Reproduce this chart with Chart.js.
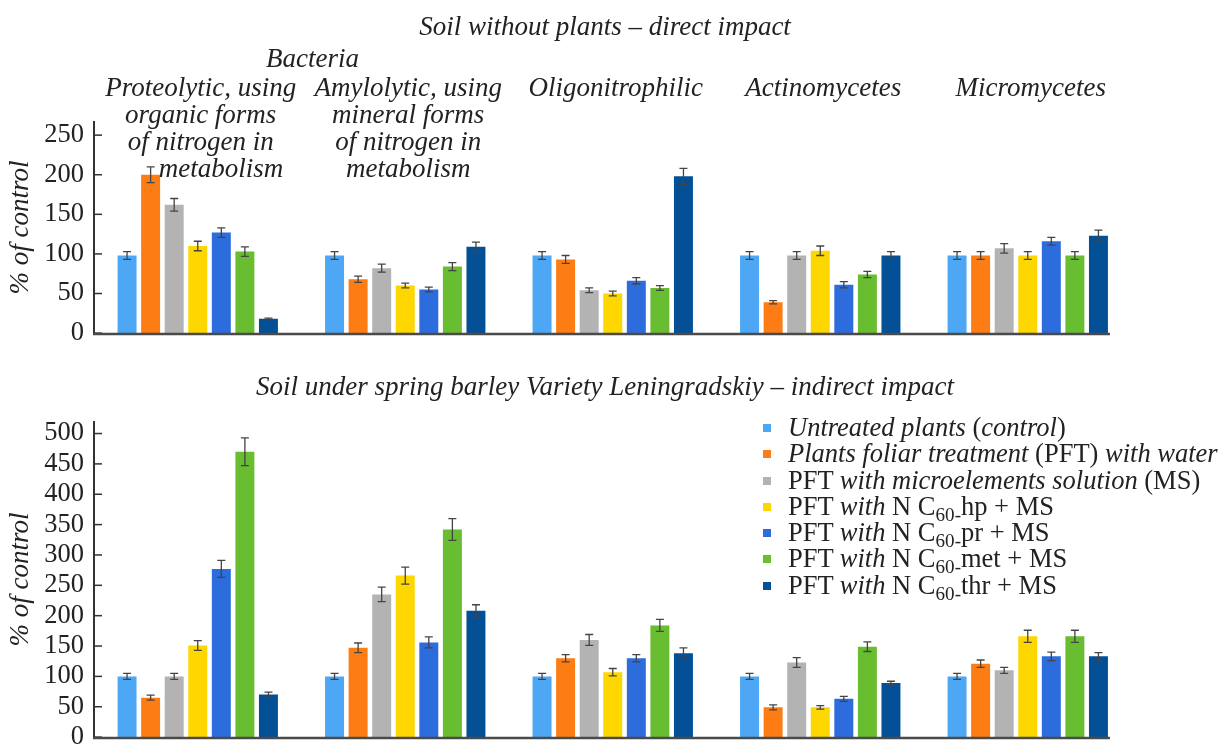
<!DOCTYPE html>
<html>
<head>
<meta charset="utf-8">
<script src="https://cdn.jsdelivr.net/npm/chart.js@4"></script>
<style>
  html, body { margin: 0; padding: 0; background: #fff; overflow: hidden; }
  body { width: 1224px; height: 745px; position: relative; }
  .box { position: absolute; left: 0; }
  #legend {
    position: absolute; left: 763px; top: 414px;
    font-family: "Liberation Serif", serif; font-size: 26.5px; color: #222;
  }
  #legend .row { height: 26.3px; line-height: 26.3px; white-space: nowrap; }
  #legend .sw { display: inline-block; width: 8px; height: 8px; margin-right: 17px; vertical-align: 4px; }
  #legend sub { font-size: 0.72em; vertical-align: -0.3em; line-height: 0; }
</style>
</head>
<body>
<div class="box" style="top:0"><canvas id="direct" width="1224" height="359"></canvas></div>
<div class="box" style="top:360px"><canvas id="indirect" width="1224" height="403"></canvas></div>
<div id="legend"></div>
<script>
/* ---------------- data ---------------- */
const groups = ['Proteolytic', 'Amylolytic', 'Oligonitrophilic', 'Actinomycetes', 'Micromycetes'];

const groupLabelLines = [
    ['Proteolytic, using', 'organic forms', 'of nitrogen in', '      metabolism'],
    ['Amylolytic, using', 'mineral forms', 'of nitrogen in', 'metabolism'],
    ['Oligonitrophilic'],
    ['Actinomycetes'],
    ['Micromycetes']
];

const seriesLabels = [
    '<i>Untreated plants</i> (<i>control</i>)',
    '<i>Plants foliar treatment</i> (PFT) <i>with water</i>',
    'PFT <i>with microelements solution</i> (MS)',
    'PFT <i>with</i> N C<sub>60-</sub>hp + MS',
    'PFT <i>with</i> N C<sub>60-</sub>pr + MS',
    'PFT <i>with</i> N C<sub>60-</sub>met + MS',
    'PFT <i>with</i> N C<sub>60-</sub>thr + MS'
];
const seriesColors = ['#4da7f5', '#fd7c14', '#b3b3b3', '#fed600', '#2c6cdd', '#68bd30', '#045096'];

// soil without plants (direct impact), % of control
const directUntreated = [98, 98, 98, 98, 98];
const directWater     = [200, 68, 93, 39, 98];
const directMS        = [162, 82, 54, 98, 107];
const directHp        = [110, 60, 50, 104, 98];
const directPr        = [127, 55, 66, 61, 116];
const directMet       = [103, 84, 57, 74, 98];
const directThr       = [18, 109, 198, 98, 123];

const directErrUntreated = [5, 5, 5, 5, 5];
const directErrWater     = [10, 4, 5, 2, 5];
const directErrMS        = [8, 5, 3, 5, 6];
const directErrHp        = [6, 3, 3, 6, 5];
const directErrPr        = [6, 3, 4, 4, 5];
const directErrMet       = [6, 5, 3, 4, 5];
const directErrThr       = [1, 6, 10, 5, 7];

// soil under spring barley (indirect impact), % of control
const indirectUntreated = [100, 100, 100, 100, 100];
const indirectWater     = [65, 147, 130, 49, 121];
const indirectMS        = [100, 235, 160, 123, 110];
const indirectHp        = [151, 266, 107, 49, 166];
const indirectPr        = [277, 156, 130, 63, 133];
const indirectMet       = [470, 342, 184, 149, 166];
const indirectThr       = [70, 208, 138, 89, 133];

const indirectErrUntreated = [5, 5, 5, 5, 5];
const indirectErrWater     = [4, 8, 6, 4, 6];
const indirectErrMS        = [5, 12, 9, 8, 5];
const indirectErrHp        = [8, 14, 6, 3, 10];
const indirectErrPr        = [14, 9, 6, 4, 7];
const indirectErrMet       = [23, 18, 10, 8, 10];
const indirectErrThr       = [4, 10, 9, 3, 6];

const directTicks = [0, 50, 100, 150, 200, 250];
const indirectTicks = [0, 50, 100, 150, 200, 250, 300, 350, 400, 450, 500];

/* ---------------- helpers ---------------- */
const SERIF = '"Liberation Serif", "Times New Roman", serif';
const stripTags = s => s.replace(/<[^>]+>/g, '');

function makeDatasets(values, errors) {
    return values.map((v, i) => ({
        label: stripTags(seriesLabels[i]),
        data: v,
        errors: errors[i],
        backgroundColor: seriesColors[i],
        borderWidth: 0,
        categoryPercentage: 0.795,
        barPercentage: 0.805
    }));
}

// error bars, small inward y ticks, x axis line up to the last bar, centred title
const decorations = {
    id: 'decorations',
    afterDatasetsDraw(chart, args, opts) {
        const ctx = chart.ctx;
        const y = chart.scales.y;
        const area = chart.chartArea;
        ctx.save();
        ctx.strokeStyle = '#444';
        ctx.lineWidth = 1.3;
        chart.data.datasets.forEach((ds, i) => {
            chart.getDatasetMeta(i).data.forEach((bar, j) => {
                const v = ds.data[j], e = ds.errors[j];
                const y1 = y.getPixelForValue(v + e), y2 = y.getPixelForValue(v - e);
                ctx.beginPath();
                ctx.moveTo(bar.x, y1); ctx.lineTo(bar.x, y2);
                ctx.moveTo(bar.x - 4, y1); ctx.lineTo(bar.x + 4, y1);
                ctx.moveTo(bar.x - 4, y2); ctx.lineTo(bar.x + 4, y2);
                ctx.stroke();
            });
        });
        ctx.strokeStyle = '#333';
        ctx.lineWidth = 1.5;
        y.ticks.forEach(t => {
            const py = y.getPixelForValue(t.value);
            ctx.beginPath();
            ctx.moveTo(area.left, py);
            ctx.lineTo(area.left + 8, py);
            ctx.stroke();
        });
        // x axis line
        const metas = chart.getSortedVisibleDatasetMetas();
        const lastBars = metas[metas.length - 1].data;
        const lastBar = lastBars[lastBars.length - 1];
        ctx.strokeStyle = '#4a4a4a';
        ctx.lineWidth = 2.5;
        ctx.beginPath();
        ctx.moveTo(area.left - 1, area.bottom + 1);
        ctx.lineTo(lastBar.x + lastBar.width / 2 + 2, area.bottom + 1);
        ctx.stroke();
        // title
        ctx.font = 'italic 27px ' + SERIF;
        ctx.fillStyle = '#222';
        ctx.textAlign = 'center';
        ctx.textBaseline = 'middle';
        ctx.fillText(opts.title, 605, 28);
        ctx.restore();
    }
};

// category names drawn over the top chart
const groupNames = {
    id: 'groupNames',
    afterDraw(chart) {
        const ctx = chart.ctx;
        const x = chart.scales.x;
        ctx.save();
        ctx.font = 'italic 27px ' + SERIF;
        ctx.fillStyle = '#222';
        ctx.textAlign = 'center';
        ctx.textBaseline = 'middle';
        ctx.fillText('Bacteria', (x.getPixelForValue(0) + x.getPixelForValue(1)) / 2 + 11, 60);
        groupLabelLines.forEach((lines, i) => {
            const cx = x.getPixelForValue(i) + 3;
            lines.forEach((line, k) => ctx.fillText(line, cx, 89 + k * 27));
        });
        ctx.restore();
    }
};

function makeChart(id, values, errors, title, ticks, yMax, padTop, padBottom, extraPlugins) {
    return new Chart(document.getElementById(id), {
        type: 'bar',
        data: { labels: groups, datasets: makeDatasets(values, errors) },
        plugins: [decorations].concat(extraPlugins),
        options: {
            responsive: false,
            animation: false,
            layout: { padding: { left: 0, right: 92.5, top: padTop, bottom: padBottom } },
            plugins: {
                legend: { display: false },
                tooltip: { enabled: false },
                title: { display: false },
                decorations: { title: title }
            },
            scales: {
                x: {
                    grid: { display: false, drawTicks: false },
                    border: { display: false },
                    ticks: { display: false },
                    afterFit: s => { s.height = 0; }
                },
                y: {
                    min: 0,
                    max: yMax,
                    grid: { display: false, drawTicks: false },
                    border: { display: true, color: '#333', width: 2 },
                    afterBuildTicks: s => { s.ticks = ticks.map(v => ({ value: v })); },
                    afterFit: s => { s.width = 94; },
                    ticks: {
                        color: '#222',
                        padding: 10,
                        autoSkip: false,
                        font: { family: SERIF, size: 26.5 }
                    },
                    title: {
                        display: true,
                        text: '% of control',
                        color: '#222',
                        font: { family: SERIF, size: 27, style: 'italic' },
                        padding: { top: 5, bottom: 0 }
                    }
                }
            }
        }
    });
}

makeChart('direct',
    [directUntreated, directWater, directMS, directHp, directPr, directMet, directThr],
    [directErrUntreated, directErrWater, directErrMS, directErrHp, directErrPr, directErrMet, directErrThr],
    'Soil without plants \u2013 direct impact', directTicks, 266.6, 122, 15, [groupNames]);

makeChart('indirect',
    [indirectUntreated, indirectWater, indirectMS, indirectHp, indirectPr, indirectMet, indirectThr],
    [indirectErrUntreated, indirectErrWater, indirectErrMS, indirectErrHp, indirectErrPr, indirectErrMet, indirectErrThr],
    'Soil under spring barley Variety Leningradskiy \u2013 indirect impact', indirectTicks, 519, 62, 19, []);

// legend with mixed italic / upright text
const legend = document.getElementById('legend');
seriesLabels.forEach((lab, i) => {
    const row = document.createElement('div');
    row.className = 'row';
    row.innerHTML = '<span class="sw" style="background:' + seriesColors[i] + '"></span>' + lab;
    legend.appendChild(row);
});
</script>
</body>
</html>
